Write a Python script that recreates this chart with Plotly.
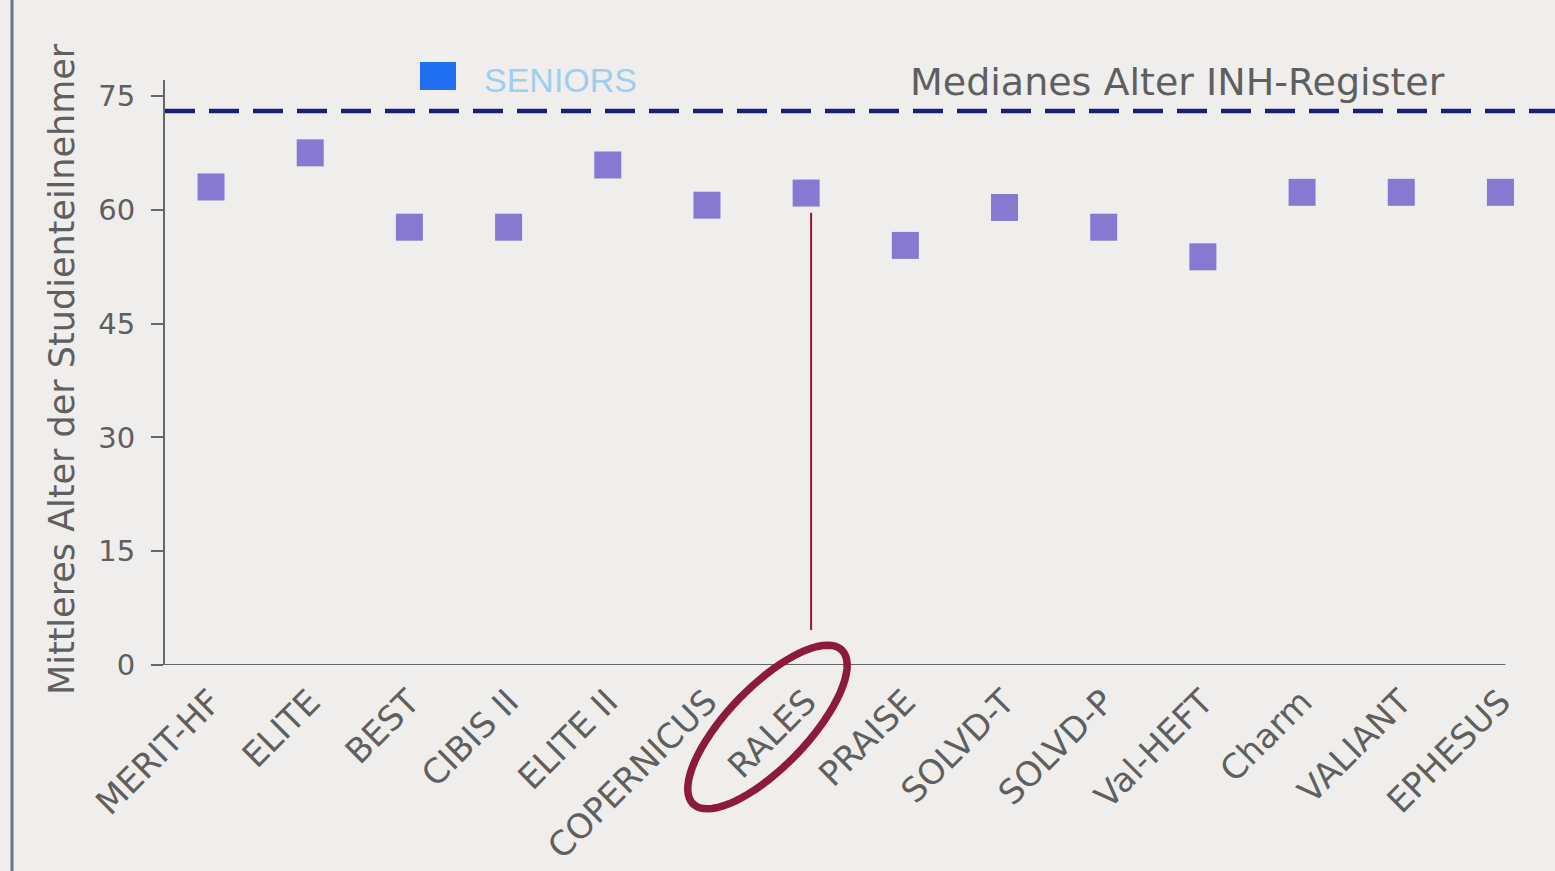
import math
import plotly.graph_objects as go

# ---- data ----
studies = ["MERIT-HF", "ELITE", "BEST", "CIBIS II", "ELITE II", "COPERNICUS", "RALES",
           "PRAISE", "SOLVD-T", "SOLVD-P", "Val-HEFT", "Charm", "VALIANT", "EPHESUS"]
mean_age = [63.0, 67.5, 57.7, 57.7, 65.9, 60.6, 62.2, 55.3, 60.3, 57.7, 53.8, 62.3, 62.3, 62.3]
registry_median = 73.0
y_ticks = [0, 15, 30, 45, 60, 75]
highlight = "RALES"

W, H = 1555, 871
L, R, T, B = 165, 0, 80, 206
XMIN, XMAX = -0.464, 13.55
YMIN, YMAX = 0, 77.1

idx = list(range(len(studies)))
fig = go.Figure()

fig.add_trace(go.Scatter(
    x=idx, y=mean_age, mode="markers",
    marker=dict(symbol="square", size=27, color="#8779d2",
                line=dict(width=0)),
    showlegend=False, hoverinfo="text", text=studies,
))

grey = "#5f5f5f"
font_main = "DejaVu Sans"

pw = W - L - R
ph = H - T - B
ppx = pw / (XMAX - XMIN)
ppy = ph / (YMAX - YMIN)

shapes = []
# registry median dashed line
shapes.append(dict(type="line", xref="paper", yref="y", x0=0, x1=1,
                   y0=registry_median, y1=registry_median,
                   line=dict(color="#1b1f78", width=4.5, dash="30px,14px")))
# x axis line
shapes.append(dict(type="line", xref="x", yref="y", x0=XMIN, x1=13.05, y0=0, y1=0,
                   line=dict(color="#666666", width=2)))
# left border of scan
bx = (12 - L) / pw
shapes.append(dict(type="line", xref="paper", yref="paper", x0=bx, x1=bx,
                   y0=-B / ph - 0.02, y1=1 + T / ph + 0.02,
                   line=dict(color="#6b7285", width=3)))

# highlight vertical line for RALES
hi = studies.index(highlight)
hv = mean_age[hi]
shapes.append(dict(type="line", xref="x", yref="y", x0=hi + 0.05, x1=hi + 0.05,
                   y0=hv - 2.6, y1=4.6, line=dict(color="#8b1a3c", width=2)))

# ellipse around the highlighted label (paper coords computed from axis mapping)
cx_px = L + (hi - 0.39 - XMIN) * ppx
cy_px = (H - B) + 62
a, b, ang = 107, 40, math.radians(-46)
pts = []
for k in range(73):
    t = 2 * math.pi * k / 72
    ex = a * math.cos(t)
    ey = b * math.sin(t)
    px = cx_px + ex * math.cos(ang) - ey * math.sin(ang)
    py = cy_px + ex * math.sin(ang) + ey * math.cos(ang)
    pts.append(((px - L) / pw, ((H - B) - py) / ph))
path = "M " + " L ".join(f"{x:.5f},{y:.5f}" for x, y in pts) + " Z"
shapes.append(dict(type="path", xref="paper", yref="paper", path=path,
                   line=dict(color="#8b1a3c", width=7.5)))

# legend square
shapes.append(dict(type="rect", xref="paper", yref="paper",
                   x0=(420 - L) / pw, x1=(456 - L) / pw,
                   y0=((H - B) - 90) / ph, y1=((H - B) - 62) / ph,
                   fillcolor="#1f6ff0", line=dict(width=0)))

annotations = [
    dict(xref="paper", yref="paper", x=(482 - L) / pw, y=((H - B) - 80) / ph,
         text="SENIORS", showarrow=False, xanchor="left", yanchor="middle",
         font=dict(family="Liberation Sans", size=34, color="#9ccfee")),
    dict(xref="paper", yref="paper", x=(1447 - L) / pw, y=((H - B) - 82) / ph,
         text="Medianes Alter INH-Register", showarrow=False, xanchor="right",
         yanchor="middle", font=dict(family=font_main, size=38, color=grey)),
    dict(xref="paper", yref="paper", x=(62 - L) / pw, y=((H - B) - 369) / ph,
         text="Mittleres Alter der Studienteilnehmer", showarrow=False, textangle=-90,
         xanchor="center", yanchor="middle",
         font=dict(family=font_main, size=35, color=grey)),
]

fig.update_layout(
    width=W, height=H,
    margin=dict(l=L, r=R, t=T, b=B, pad=0),
    paper_bgcolor="#efeeec", plot_bgcolor="#efeeec",
    shapes=shapes, annotations=annotations, showlegend=False,
    xaxis=dict(range=[XMIN, XMAX], tickmode="array", tickvals=idx, ticktext=studies,
               tickangle=-45, showgrid=False, zeroline=False, showline=False,
               ticks="", ticklabelstandoff=9,
               tickfont=dict(family=font_main, size=34, color=grey)),
    yaxis=dict(range=[YMIN, YMAX], tickmode="array", tickvals=y_ticks,
               showgrid=False, zeroline=False, showline=True, linecolor="#666666",
               linewidth=2, ticks="outside", ticklen=12, tickcolor="#666666",
               tickwidth=2, ticklabelstandoff=10,
               tickfont=dict(family=font_main, size=29, color=grey)),
)

fig.write_html("out.html", config={"displayModeBar": False},
               post_script="document.body.style.margin='0';")
